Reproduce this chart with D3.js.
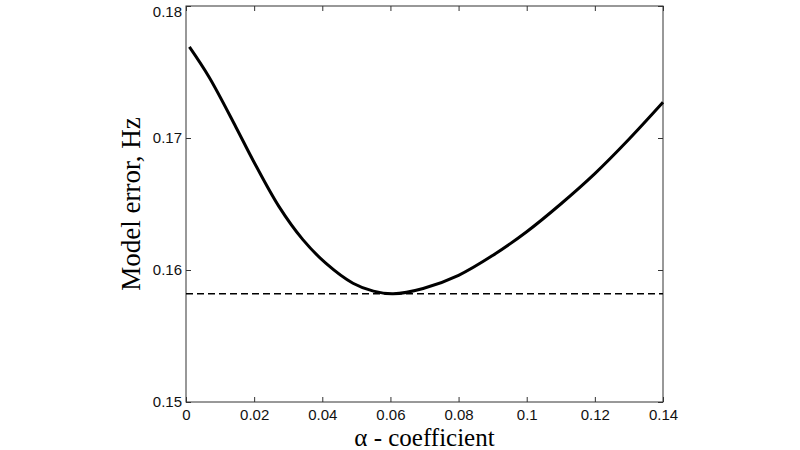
<!DOCTYPE html><html><head><meta charset="utf-8"><script src="https://cdn.jsdelivr.net/npm/d3@7"></script>
<style>body{margin:0;background:#fff}</style></head><body><svg id="c" width="800" height="450"></svg><script>
const alphaValues=[0.001,0.0068,0.0147,0.0197,0.0273,0.0343,0.0411,0.049,0.055,0.0608,0.0696,0.08,0.09,0.1,0.11,0.12,0.13,0.14];
const errorValues=[0.1769,0.1746,0.1708,0.1683,0.1648,0.1623,0.1605,0.1590,0.1584,0.1582,0.1586,0.1596,0.1611,0.1629,0.1650,0.1673,0.1699,0.1727];
const baseline=0.1582;
const xTicks=[0,0.02,0.04,0.06,0.08,0.1,0.12,0.14];
const yTicks=[0.15,0.16,0.17,0.18];
const svg=d3.select("#c");
const L=186,R=663,T=6,B=402;
const x=d3.scaleLinear().domain([0,0.14]).range([L,R]);
const y=d3.scaleLinear().domain([0.15,0.18]).range([B,T]);
const ff="Arial, 'Liberation Sans', sans-serif";
svg.append("rect").attr("x",L).attr("y",T).attr("width",R-L).attr("height",B-T).attr("fill","none").attr("stroke","#333");
const gx=svg.append("g").attr("transform",`translate(0,${B})`).call(d3.axisBottom(x).tickValues(xTicks).tickSize(-5).tickPadding(7).tickFormat(d=>d===0?"0":String(+d.toFixed(2))));
const gxt=svg.append("g").attr("transform",`translate(0,${T})`).call(d3.axisTop(x).tickValues(xTicks).tickSize(-5).tickFormat(""));
const gy=svg.append("g").attr("transform",`translate(${L},0)`).call(d3.axisLeft(y).tickValues(yTicks).tickSize(-5).tickPadding(4).tickFormat(d3.format(".2f")));
const gyr=svg.append("g").attr("transform",`translate(${R},0)`).call(d3.axisRight(y).tickValues(yTicks).tickSize(-5).tickFormat(""));
[gx,gxt,gy,gyr].forEach(g=>{g.select(".domain").remove();g.selectAll("line").attr("stroke","#333");g.selectAll("text").attr("font-family",ff).attr("font-size",15).attr("fill","#111");});
gy.selectAll(".tick").filter(d=>d===0.18).select("text").attr("dy","0.7em");
svg.append("line").attr("x1",L).attr("x2",R).attr("y1",y(baseline)).attr("y2",y(baseline)).attr("stroke","#000").attr("stroke-width",1.3).attr("stroke-dasharray","7,4");
svg.append("path").datum(alphaValues.map((a,i)=>[a,errorValues[i]])).attr("d",d3.line().x(d=>x(d[0])).y(d=>y(d[1])).curve(d3.curveCatmullRom)).attr("fill","none").attr("stroke","#000").attr("stroke-width",3);
svg.append("text").attr("x",(L+R)/2).attr("y",446).attr("text-anchor","middle").attr("font-family","'Liberation Serif', serif").attr("font-size",25).text("α - coefficient");
svg.append("text").attr("transform",`translate(140,${(T+B)/2}) rotate(-90)`).attr("text-anchor","middle").attr("font-family","'Liberation Serif', serif").attr("font-size",27).text("Model error, Hz");
</script></body></html>
